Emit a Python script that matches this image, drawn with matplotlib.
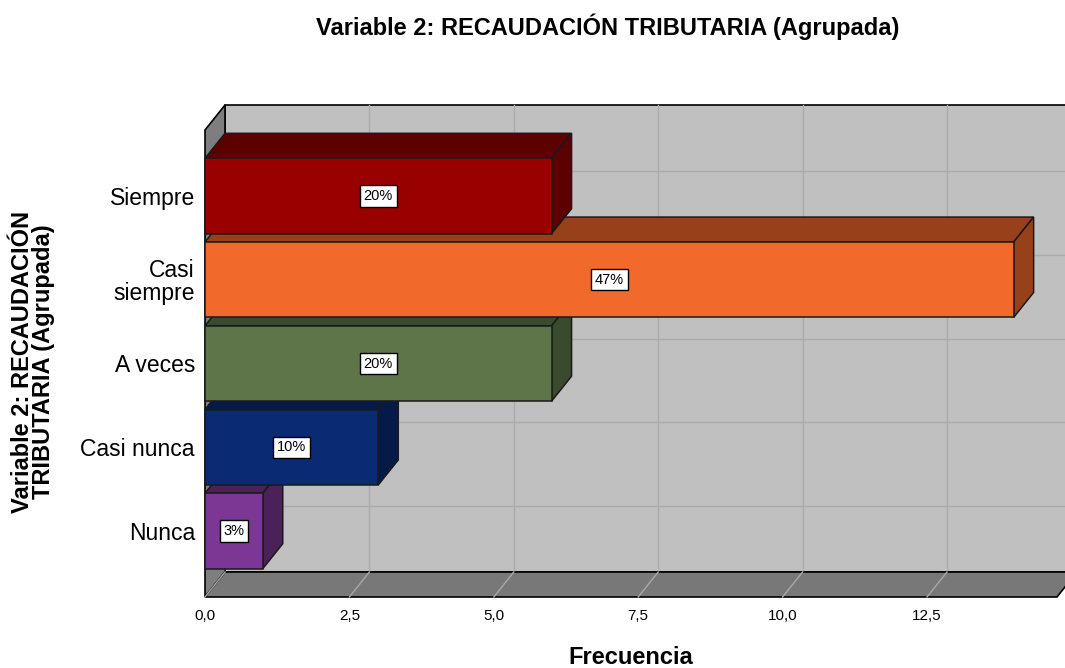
import numpy as np
import matplotlib
matplotlib.use("Agg")
import matplotlib.pyplot as plt
from matplotlib.patches import Polygon

# data (bottom to top)
categorias = ["Nunca", "Casi nunca", "A veces", "Casi\nsiempre", "Siempre"]
frecuencias = [1, 3, 6, 14, 6]
porcentajes = ["3%", "10%", "20%", "47%", "20%"]
colores_frente = ["#7B3793", "#0B2A74", "#5E7449", "#F26A2B", "#990000"]
colores_lado = ["#4A2159", "#061A49", "#394A2D", "#98401A", "#5C0000"]
xticks = [0, 2.5, 5, 7.5, 10, 12.5]

plt.rcParams['font.family'] = ['Liberation Sans', 'DejaVu Sans']

W, H = 1065, 668
fig = plt.figure(figsize=(W / 100, H / 100), dpi=100)

# pixel scales of the front plane
px_x = 57.76      # px per frequency unit
px_y = 83.75      # px per category
x0_px, y0_px = 205, 531   # pixel of (0, Nunca)

# axes box in pixels
left_px, right_px, top_px, bot_px = 195, 1065, 95, 603
ax = fig.add_axes([left_px / W, 1 - bot_px / H,
                   (right_px - left_px) / W, (bot_px - top_px) / H])
ax.set_xlim((left_px - x0_px) / px_x, (right_px - x0_px) / px_x)
ax.set_ylim((y0_px - bot_px) / px_y, (y0_px - top_px) / px_y)

# 3D depth offset (data units)
dx = 20 / px_x
dy = 25 / px_y
ybot, ytop = -0.788, 4.788
xr = 14.75
xfar = 20

wall_kw = dict(edgecolor="black", linewidth=1.2, joinstyle="miter")
# back wall
ax.add_patch(Polygon([(dx, ybot + dy), (xfar, ybot + dy), (xfar, ytop + dy), (dx, ytop + dy)],
                     facecolor="#C0C0C0", **wall_kw, zorder=1))
# grid on back wall
for xv in xticks[1:]:
    ax.plot([xv + dx, xv + dx], [ybot + dy, ytop + dy], color="#ABABAB", lw=1, zorder=2)
for i in range(len(categorias)):
    ax.plot([dx, xfar], [i + dy, i + dy], color="#ABABAB", lw=1, zorder=2)
# left wall
ax.add_patch(Polygon([(0, ybot), (dx, ybot + dy), (dx, ytop + dy), (0, ytop)],
                     facecolor="#7E7E7E", **wall_kw, zorder=3))
# floor
ax.add_patch(Polygon([(0, ybot), (xr, ybot), (xr + dx, ybot + dy), (dx, ybot + dy)],
                     facecolor="#787878", **wall_kw, zorder=3))
for xv in xticks:
    ax.plot([xv, xv + dx], [ybot, ybot + dy], color="#A8A8A8", lw=1, zorder=4)

# bars, bottom first so the upper ones overlap
h = 0.9
for i, (v, cf, cs, pct) in enumerate(zip(frecuencias, colores_frente, colores_lado, porcentajes)):
    z = 5 + i
    yb, yt = i - h / 2, i + h / 2
    kw = dict(edgecolor="#1a1a1a", linewidth=1.1, joinstyle="miter", zorder=z)
    ax.add_patch(Polygon([(0, yt), (v, yt), (v + dx, yt + dy), (dx, yt + dy)], facecolor=cs, **kw))
    ax.add_patch(Polygon([(v, yb), (v + dx, yb + dy), (v + dx, yt + dy), (v, yt)], facecolor=cs, **kw))
    ax.add_patch(Polygon([(0, yb), (v, yb), (v, yt), (0, yt)], facecolor=cf, **kw))
    ax.text(v / 2, i, pct, ha="center", va="center", fontsize=10.5, zorder=z + 0.5,
            bbox=dict(boxstyle="square,pad=0.25", facecolor="white", edgecolor="black", linewidth=1))

for s in ax.spines.values():
    s.set_visible(False)
ax.set_xticks(xticks)
ax.set_xticklabels([f"{t:.1f}".replace(".", ",") for t in xticks], fontsize=11)
ax.set_yticks(range(len(categorias)))
ax.set_yticklabels(categorias, fontsize=16.5, multialignment="right", linespacing=1.0)
ax.tick_params(axis="x", length=0, pad=4)
ax.tick_params(axis="y", length=0, pad=0)

fig.text(608 / W, 1 - 27 / H, "Variable 2: RECAUDACIÓN TRIBUTARIA (Agrupada)",
         ha="center", va="center", fontsize=17, fontweight="bold")
fig.text(631 / W, 1 - 657 / H, "Frecuencia", ha="center", va="center",
         fontsize=17, fontweight="bold")
fig.text(33 / W, 1 - 362 / H, "Variable 2: RECAUDACIÓN\nTRIBUTARIA (Agrupada)",
         ha="center", va="center", rotation=90, fontsize=17, fontweight="bold",
         multialignment="center", linespacing=0.85)

fig.savefig("out.png", dpi=100)
